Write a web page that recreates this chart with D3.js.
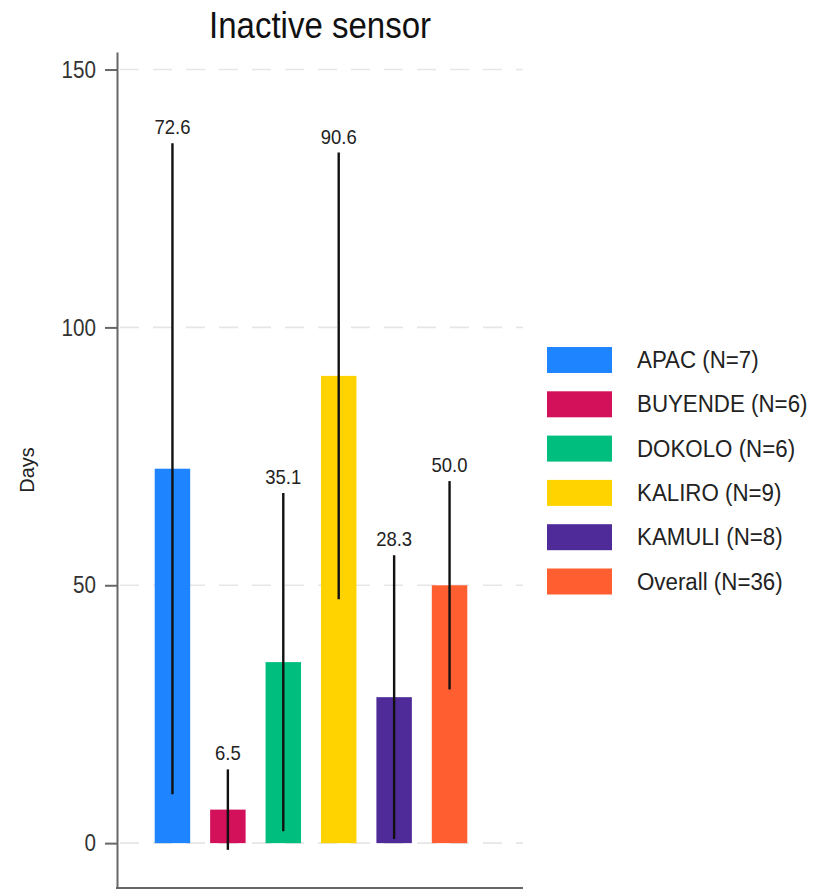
<!DOCTYPE html>
<html>
<head>
<meta charset="utf-8">
<script src="https://cdn.jsdelivr.net/npm/d3@7/dist/d3.min.js"></script>
<style>
  html, body { margin: 0; padding: 0; background: #fff; }
  svg { display: block; font-family: "Liberation Sans", Arial, sans-serif; }
</style>
</head>
<body>
<svg id="chart" width="822" height="892"></svg>
<script>
// Mean inactive-sensor days per district, with spread (± half-width of the whisker)
const districts = ["APAC", "BUYENDE", "DOKOLO", "KALIRO", "KAMULI", "Overall"];
const counts    = [7, 6, 6, 9, 8, 36];
const meanDays  = [72.6, 6.5, 35.1, 90.6, 28.3, 50.0];
const spread    = [63.1, 7.8, 32.8, 43.3, 27.5, 20.2];
const colors    = ["#1e84ff", "#d3105a", "#00bf7e", "#ffd300", "#4f2b9a", "#ff5f30"];
const yTicks    = [0, 50, 100, 150];
const yDomain   = [-8.7, 153.4];

const svg = d3.select("#chart");

const plot = { left: 117, right: 523, top: 52, bottom: 888 };

// Squeeze a text node horizontally so it reads as a condensed face
function condense(sel, factor) {
  sel.each(function () {
    const len = this.getComputedTextLength();
    d3.select(this)
      .attr("textLength", len * factor)
      .attr("lengthAdjust", "spacingAndGlyphs");
  });
}

const x = d3.scaleBand()
  .domain(districts)
  .range([127, 495])
  .paddingInner(0.36)
  .paddingOuter(0.5);

const y = d3.scaleLinear()
  .domain(yDomain)
  .range([plot.bottom, plot.top]);

// Title
svg.append("text")
  .attr("x", 320).attr("y", 38)
  .attr("text-anchor", "middle")
  .attr("font-size", 36)
  .attr("textLength", 222)
  .attr("lengthAdjust", "spacingAndGlyphs")
  .attr("fill", "#111")
  .text("Inactive sensor");

// Dashed horizontal gridlines
svg.append("g")
  .selectAll("line")
  .data(yTicks)
  .join("line")
  .attr("x1", plot.left).attr("x2", plot.right)
  .attr("y1", d => y(d)).attr("y2", d => y(d))
  .attr("stroke", "#e6e6e6")
  .attr("stroke-width", 1.6)
  .attr("stroke-dasharray", "19,14")
  .attr("stroke-dashoffset", 30);

// Bars
svg.append("g")
  .selectAll("rect")
  .data(districts)
  .join("rect")
  .attr("x", d => x(d))
  .attr("width", x.bandwidth())
  .attr("y", (d, i) => y(meanDays[i]))
  .attr("height", (d, i) => y(0) - y(meanDays[i]))
  .attr("fill", (d, i) => colors[i]);

// Whiskers
svg.append("g")
  .selectAll("line")
  .data(districts)
  .join("line")
  .attr("x1", d => x(d) + x.bandwidth() / 2)
  .attr("x2", d => x(d) + x.bandwidth() / 2)
  .attr("y1", (d, i) => y(meanDays[i] + spread[i]))
  .attr("y2", (d, i) => y(meanDays[i] - spread[i]))
  .attr("stroke", "#111")
  .attr("stroke-width", 2.4);

// Value labels above whiskers
svg.append("g")
  .selectAll("text")
  .data(districts)
  .join("text")
  .attr("x", d => x(d) + x.bandwidth() / 2)
  .attr("y", (d, i) => y(meanDays[i] + spread[i]) - 9)
  .attr("text-anchor", "middle")
  .attr("font-size", 21)
  .attr("fill", "#222")
  .text((d, i) => meanDays[i].toFixed(1))
  .call(condense, 0.88);

// Y axis
const yAxis = svg.append("g")
  .attr("transform", `translate(${plot.left},0)`)
  .call(d3.axisLeft(y).tickValues(yTicks).tickSize(12).tickPadding(9).tickSizeOuter(0));
yAxis.select(".domain").attr("stroke", "#666").attr("stroke-width", 2);
yAxis.selectAll(".tick line").attr("stroke", "#666").attr("stroke-width", 2);
yAxis.selectAll(".tick text")
  .attr("font-size", 24)
  .attr("font-family", "Liberation Sans, Arial, sans-serif")
  .attr("fill", "#333")
  .call(condense, 0.86);

// X axis baseline
svg.append("line")
  .attr("x1", plot.left - 1).attr("x2", plot.right)
  .attr("y1", plot.bottom).attr("y2", plot.bottom)
  .attr("stroke", "#666")
  .attr("stroke-width", 2);

// Y axis title
svg.append("text")
  .attr("transform", `translate(34,${(plot.top + plot.bottom) / 2}) rotate(-90)`)
  .attr("text-anchor", "middle")
  .attr("font-size", 20)
  .attr("fill", "#222")
  .text("Days");

// Legend
const legend = svg.append("g")
  .attr("transform", "translate(547,347)");
const rows = legend.selectAll("g")
  .data(districts)
  .join("g")
  .attr("transform", (d, i) => `translate(0,${i * 44.3})`);
rows.append("rect")
  .attr("width", 65).attr("height", 26)
  .attr("fill", (d, i) => colors[i]);
rows.append("text")
  .attr("x", 90).attr("y", 21)
  .attr("font-size", 23)
  .attr("fill", "#222")
  .text((d, i) => `${d} (N=${counts[i]})`)
  .call(condense, 0.97);
</script>
</body>
</html>
